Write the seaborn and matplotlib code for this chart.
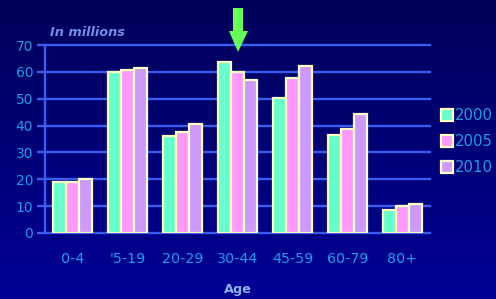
import numpy as np
import pandas as pd
import matplotlib
matplotlib.use("Agg")
import matplotlib.pyplot as plt
import seaborn as sns
from matplotlib.patches import Rectangle, Polygon

categories = ["0-4", "'5-19", "20-29", "30-44", "45-59", "60-79", "80+"]
years = ["2000", "2005", "2010"]
v2000 = [19.0, 60.0, 36.2, 63.7, 50.4, 36.4, 8.6]
v2005 = [19.0, 60.7, 37.7, 60.0, 57.8, 38.6, 10.1]
v2010 = [20.0, 61.4, 40.7, 57.1, 62.3, 44.4, 10.8]
yticks = [0, 10, 20, 30, 40, 50, 60, 70]
colors = ["#66ffcc", "#ff99ff", "#cc99ff"]

df = pd.DataFrame({
    "Age": categories * 3,
    "Year": [y for y in years for _ in categories],
    "Value": v2000 + v2005 + v2010,
})

W, H = 496, 299
fig = plt.figure(figsize=(W / 100, H / 100), dpi=100)

# gradient background
bg = fig.add_axes([0, 0, 1, 1], zorder=-10)
grad = np.linspace(0, 1, 256).reshape(-1, 1)
top = np.array([0x00, 0x00, 0x58]) / 255
bot = np.array([0x00, 0x00, 0x96]) / 255
img = top[None, None, :] * (1 - grad[..., None]) + bot[None, None, :] * grad[..., None]
bg.imshow(img, aspect="auto", extent=[0, 1, 0, 1])
bg.set_axis_off()

grid_c = "#3a5cf0"
tick_c = "#1a9ee8"

ax = fig.add_axes([45 / W, 1 - 233 / H, 385 / W, 188 / H])
ax.patch.set_alpha(0)
sns.barplot(data=df, x="Age", y="Value", hue="Year", palette=colors,
            width=0.72, edgecolor="#ffffc0", linewidth=1.6, ax=ax,
            legend=False, saturation=1, zorder=3)
ax.set_ylim(0, 70)
ax.set_xlim(-0.5, 6.5)
ax.set_yticks(yticks)
ax.set_yticklabels([str(t) for t in yticks])
for t in yticks:
    ax.axhline(t, color=grid_c, lw=1.7, zorder=1, clip_on=False)
for s in ["top", "right", "bottom"]:
    ax.spines[s].set_visible(False)
ax.spines["left"].set_color(grid_c)
ax.spines["left"].set_linewidth(1.7)
ax.tick_params(axis="y", length=5.5, width=1.7, color=grid_c, labelcolor=tick_c,
               labelsize=10, pad=3)
ax.tick_params(axis="x", length=0, labelcolor=tick_c, labelsize=10.3, pad=14)
ax.set_xlabel("")
ax.set_ylabel("")
for lab in ax.get_xticklabels() + ax.get_yticklabels():
    lab.set_fontfamily("DejaVu Sans")

fig.text(50 / W, 1 - 33 / H, "In millions", color="#6f8ee6", fontsize=9.3,
         fontstyle="italic", fontweight="bold", va="center", ha="left")
fig.text(238 / W, 1 - 289 / H, "Age", color="#8ab0f0", fontsize=9.3,
         fontweight="bold", va="center", ha="center")

# legend
for i, (yr, c) in enumerate(zip(years, colors)):
    yc = 115 + 26 * i
    fig.patches.append(Rectangle((441 / W, 1 - (yc + 6) / H), 12 / W, 12 / H,
                                 transform=fig.transFigure, facecolor=c,
                                 edgecolor="#ffffc0", lw=1.6))
    fig.text(455 / W, 1 - yc / H, yr, color=tick_c, fontsize=10.7,
             va="center", ha="left")

# green arrow
pts = [(233, 8), (243, 8), (243, 31), (248, 31), (238, 52), (229, 31), (233, 31)]
fig.patches.append(Polygon([(x / W, 1 - y / H) for x, y in pts], closed=True,
                           transform=fig.transFigure, facecolor="#66ff55",
                           edgecolor="none", zorder=5))

fig.savefig("out.png", dpi=100)
